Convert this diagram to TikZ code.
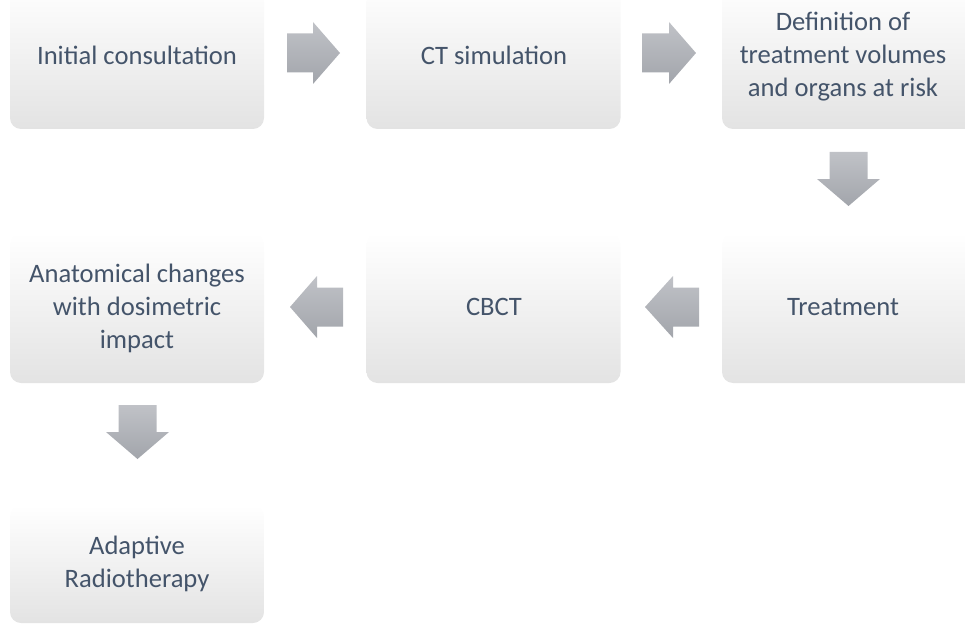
\documentclass[tikz,border=0pt]{standalone}
\usepackage{fontspec}
\setmainfont{Carlito}
\definecolor{txt}{HTML}{44546A}
\definecolor{boxlow}{HTML}{E3E3E3}
\definecolor{arrtop}{HTML}{C0C2C7}
\definecolor{arrbot}{HTML}{A2A5AB}
\tikzset{
  boxnode/.style={rectangle, rounded corners=11pt, minimum width=254pt, inner sep=0pt,
    top color=white, middle color=white, bottom color=boxlow, draw=none},
  lbl/.style={text=txt, align=center, inner sep=0pt, font=\fontsize{26.6}{33}\selectfont},
  blockarrow/.style={top color=arrtop, bottom color=arrbot, draw=none}
}
\begin{document}
\begin{tikzpicture}[x=1pt,y=-1pt]
\useasboundingbox (0,0) rectangle (965,631);
\clip (0,0) rectangle (965,631);
% boxes
\node[boxnode, minimum height=146pt] (b1) at (137,56) {};
\node[boxnode, minimum height=146pt] (b2) at (493.5,56) {};
\node[boxnode, minimum height=146pt] (b3) at (849,56) {};
\node[boxnode, minimum height=150pt] (b4) at (137,308) {};
\node[boxnode, minimum height=150pt] (b5) at (493.5,308) {};
\node[boxnode, minimum height=150pt] (b6) at (849,308) {};
\node[boxnode, minimum height=118pt] (b7) at (137,564) {};
% labels
\node[lbl] (t1) at (137,55) {Initial consultation};
\node[lbl] (t2) at (494,55) {CT simulation};
\node[lbl] (t3) at (843,56.5) {Definition of\\treatment volumes\\and organs at risk};
\node[lbl] (t4) at (137,308) {Anatomical changes\\with dosimetric\\impact};
\node[lbl] (t5) at (494,307) {CBCT};
\node[lbl] (t6) at (843,307) {Treatment};
\node[lbl] (t7) at (137,564) {Adaptive\\Radiotherapy};
% block arrows (right)
\path[blockarrow] (287,33.5) -- (313,33.5) -- (313,22) -- (340,53) -- (313,84) -- (313,72.5) -- (287,72.5) -- cycle;
\path[blockarrow] (642,33.5) -- (669,33.5) -- (669,22) -- (696,53) -- (669,84) -- (669,72.5) -- (642,72.5) -- cycle;
% down
\path[blockarrow] (829.5,152) -- (867.5,152) -- (867.5,179) -- (880,179) -- (848.5,206) -- (817,179) -- (829.5,179) -- cycle;
\path[blockarrow] (118.5,405) -- (156.5,405) -- (156.5,432) -- (169,432) -- (137.5,459) -- (106,432) -- (118.5,432) -- cycle;
% left
\path[blockarrow] (699,287.5) -- (673,287.5) -- (673,276) -- (645,307) -- (673,338) -- (673,326.5) -- (699,326.5) -- cycle;
\path[blockarrow] (343,287.5) -- (317,287.5) -- (317,276) -- (290,307) -- (317,338) -- (317,326.5) -- (343,326.5) -- cycle;
\end{tikzpicture}
\end{document}
